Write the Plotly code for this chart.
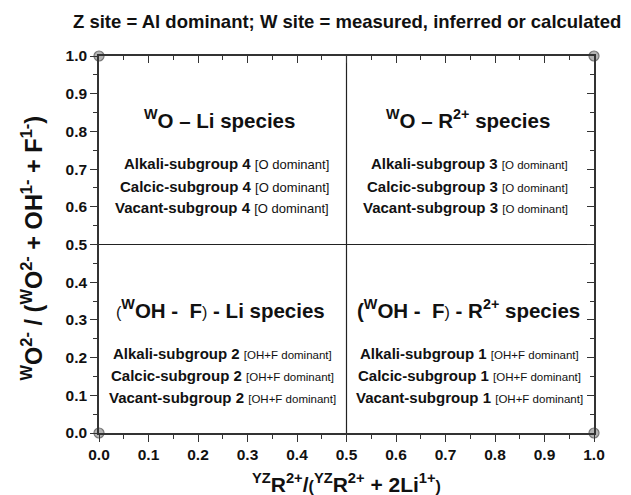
import plotly.graph_objects as go

# ---- data ----
x_range = [0.0, 1.0]
y_range = [0.0, 1.0]
boundary = 0.5
corner_x = [0.0, 1.0, 0.0, 1.0]
corner_y = [0.0, 0.0, 1.0, 1.0]

chart_title = "Z site = Al dominant; W site = measured, inferred or calculated"
x_title = ("<sup>YZ</sup>R<sup>2+</sup>/<span style='font-size:16px'>(</span>"
           "<sup>YZ</sup>R<sup>2+</sup> + 2Li<sup>1+</sup><span style='font-size:16px'>)</span>")
y_title = ("<sup>W</sup>O<sup>2-</sup>\u00a0/\u00a0(<sup>W</sup>O<sup>2-</sup> + OH<sup>1-</sup> + F<sup>1-</sup>)")

SMALL_OPEN = "<span style='font-size:16px;font-weight:normal'>(</span>"
SMALL_CLOSE = "<span style='font-size:16px;font-weight:normal'>)</span>"
quad_titles = [
    "<sup>W</sup>O \u2013 Li species",
    "<sup>W</sup>O \u2013 R<sup>2+</sup> species",
    SMALL_OPEN + "<sup>W</sup>OH -\u00a0 F" + SMALL_CLOSE + " - Li species",
    "(<sup>W</sup>OH -\u00a0 F" + SMALL_CLOSE + " - R<sup>2+</sup> species",
]
quad_title_x = [0.243, 0.745, 0.245, 0.747]
quad_title_y = [0.832, 0.832, 0.328, 0.328]

subgroups = [
    ["Alkali-subgroup 4", "Calcic-subgroup 4", "Vacant-subgroup 4"],
    ["Alkali-subgroup 3", "Calcic-subgroup 3", "Vacant-subgroup 3"],
    ["Alkali-subgroup 2", "Calcic-subgroup 2", "Vacant-subgroup 2"],
    ["Alkali-subgroup 1", "Calcic-subgroup 1", "Vacant-subgroup 1"],
]
dominance = ["[O dominant]", "[O dominant]", "[OH+F dominant]", "[OH+F dominant]"]
dominance_size = [13, 11.5, 11.5, 11.5]
sub_x = [0.468, 0.951, 0.25, 0.749]
sub_anchor = ["right", "right", "center", "center"]
sub_y_top = [0.716, 0.655, 0.598]
sub_y_bottom = [0.211, 0.153, 0.094]

FONT = "Liberation Sans, Arial, sans-serif"
AX = "#333333"

fig = go.Figure()

# quadrant dividing lines
fig.add_trace(go.Scatter(x=[boundary, boundary], y=y_range, mode="lines",
                         line=dict(color="#222", width=1.2), hoverinfo="skip",
                         showlegend=False))
fig.add_trace(go.Scatter(x=x_range, y=[boundary, boundary], mode="lines",
                         line=dict(color="#222", width=1.2), hoverinfo="skip",
                         showlegend=False))
# corner circles
fig.add_trace(go.Scatter(x=corner_x, y=corner_y, mode="markers",
                         marker=dict(size=10, color="#b4b4b4",
                                     line=dict(color="#777777", width=1.2)),
                         cliponaxis=False, hoverinfo="skip", showlegend=False))
# invisible trace for mirror axes
fig.add_trace(go.Scatter(x=x_range, y=y_range, xaxis="x2", yaxis="y2",
                         mode="markers", marker=dict(opacity=0),
                         hoverinfo="skip", showlegend=False))

annotations = []
for i in range(4):
    annotations.append(dict(x=quad_title_x[i], y=quad_title_y[i], xref="x", yref="y",
                            text=quad_titles[i], showarrow=False,
                            xanchor="center", yanchor="middle",
                            font=dict(family=FONT, size=20.5, color="#111", weight="bold")))
    ys = sub_y_top if i < 2 else sub_y_bottom
    for j in range(3):
        txt = ("<b>" + subgroups[i][j] + "</b> <span style='font-size:%spx'>%s</span>"
               % (dominance_size[i], dominance[i]))
        annotations.append(dict(x=sub_x[i], y=ys[j], xref="x", yref="y",
                                text=txt, showarrow=False,
                                xanchor=sub_anchor[i], yanchor="middle",
                                font=dict(family=FONT, size=15, color="#111")))

annotations.append(dict(x=0.5, y=1.092, xref="paper", yref="paper",
                        text=chart_title, showarrow=False,
                        xanchor="center", yanchor="middle",
                        font=dict(family=FONT, size=18.5, color="#111", weight="bold")))
annotations.append(dict(x=0.5, y=-0.133, xref="paper", yref="paper",
                        text=x_title, showarrow=False,
                        xanchor="center", yanchor="middle",
                        font=dict(family=FONT, size=21, color="#111", weight="bold")))
annotations.append(dict(x=-0.135, y=0.49, xref="paper", yref="paper",
                        text=y_title, showarrow=False, textangle=-90,
                        xanchor="center", yanchor="middle",
                        font=dict(family=FONT, size=23.5, color="#111", weight="bold")))

common = dict(range=x_range, dtick=0.1, tick0=0, showgrid=False, zeroline=False,
              showline=True, linecolor=AX, linewidth=1.5, ticklen=7, tickwidth=1.2,
              tickcolor=AX)

fig.update_layout(
    width=631, height=495,
    margin=dict(l=91, r=45, t=48, b=70),
    paper_bgcolor="white", plot_bgcolor="white",
    showlegend=False,
    annotations=annotations,
    xaxis=dict(**common, ticks="outside", tickformat=".1f",
               tickfont=dict(family=FONT, size=15.5, color="#111", weight="bold"),
               minor=dict(ticks="outside", ticklen=4, dtick=0.05, tickcolor=AX, tickwidth=1)),
    yaxis=dict(**common, ticks="outside", tickformat=".1f",
               tickfont=dict(family=FONT, size=15.5, color="#111", weight="bold"),
               minor=dict(ticks="outside", ticklen=4, dtick=0.05, tickcolor=AX, tickwidth=1)),
    xaxis2=dict(**common, overlaying="x", side="top", ticks="inside", showticklabels=False,
                minor=dict(ticks="inside", ticklen=4, dtick=0.05, tickcolor=AX, tickwidth=1)),
    yaxis2=dict(**common, overlaying="y", side="right", ticks="inside", showticklabels=False,
                minor=dict(ticks="inside", ticklen=4, dtick=0.05, tickcolor=AX, tickwidth=1)),
)

fig.write_html("out.html")
